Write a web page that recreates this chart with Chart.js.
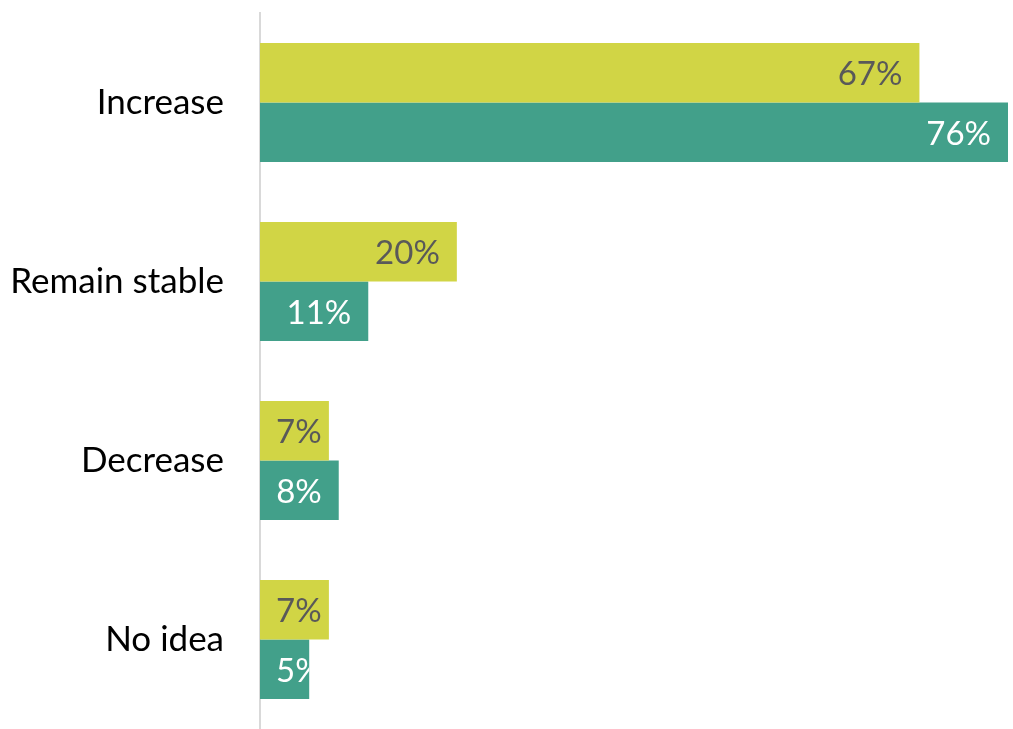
<!DOCTYPE html>
<html>
<head>
<meta charset="utf-8">
<script src="https://cdn.jsdelivr.net/npm/chart.js@4/dist/chart.umd.min.js"></script>
<style>
  html, body { margin: 0; padding: 0; background: #fff; }
  #wrap { width: 1013px; height: 729px; position: relative; }
</style>
</head>
<body>
<div id="wrap"><canvas id="myChart"></canvas></div>
<script>
const categories = ["Increase", "Remain stable", "Decrease", "No idea"];
const seriesA = [67, 20, 7, 7];
const seriesB = [76, 11, 8, 5];

const FONT = "Lato";

// value labels drawn inside the bar end
const barLabels = {
  id: "barLabels",
  afterDatasetsDraw(chart) {
    const { ctx, chartArea } = chart;
    ctx.save();
    ctx.font = "33px " + FONT;
    ctx.textBaseline = "middle";
    ctx.textAlign = "left";
    chart.data.datasets.forEach((ds, i) => {
      const meta = chart.getDatasetMeta(i);
      meta.data.forEach((bar, j) => {
        const txt = ds.data[j] + "%";
        const w = ctx.measureText(txt).width;
        let x = bar.x - 17 - w;
        if (x < chartArea.left + 16) x = chartArea.left + 16;
        ctx.save();
        ctx.beginPath();
        ctx.rect(bar.base, bar.y - bar.height / 2, bar.x - bar.base, bar.height);
        ctx.clip();
        ctx.fillStyle = ds.labelColor;
        ctx.fillText(txt, x, bar.y + 2);
        ctx.restore();
      });
    });
    ctx.restore();
  },
};

new Chart(document.getElementById("myChart"), {
  type: "bar",
  data: {
    labels: categories,
    datasets: [
      {
        label: "A",
        data: seriesA,
        backgroundColor: "#D1D545",
        labelColor: "#595959",
      },
      {
        label: "B",
        data: seriesB,
        backgroundColor: "#42A08A",
        labelColor: "#ffffff",
      },
    ],
  },
  options: {
    indexAxis: "y",
    responsive: true,
    maintainAspectRatio: false,
    animation: false,
    layout: { padding: { top: 13, right: 5, bottom: 0, left: 0 } },
    datasets: { bar: { categoryPercentage: 0.665, barPercentage: 1 } },
    plugins: { legend: { display: false }, tooltip: { enabled: false } },
    scales: {
      x: { display: false, min: 0, max: 76 },
      y: {
        afterFit(scale) {
          scale.width = 260;
          scale.paddingTop = 0;
          scale.paddingBottom = 0;
        },
        grid: { display: false, drawTicks: false },
        border: { display: true, color: "#d9d9d9", width: 2 },
        ticks: { color: "#000", padding: 36, font: { family: FONT, size: 35 } },
      },
    },
  },
  plugins: [barLabels],
});
</script>
</body>
</html>
